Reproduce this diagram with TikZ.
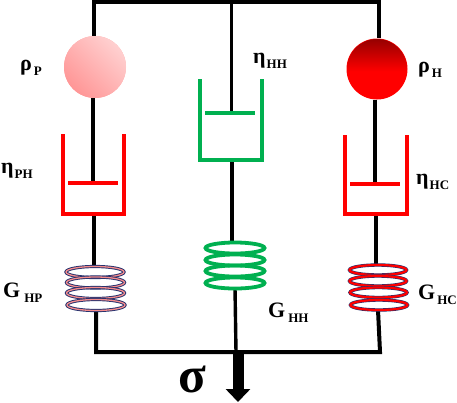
\documentclass[tikz,border=0pt]{standalone}
\usepackage{fontspec}
\setmainfont{Liberation Serif}
\usetikzlibrary{arrows.meta}
\definecolor{dashred}{RGB}{255,0,0}
\definecolor{dashgreen}{RGB}{0,176,80}
\definecolor{navyedge}{RGB}{40,50,110}
\definecolor{ballpale}{RGB}{255,208,208}
\definecolor{balldeep}{RGB}{255,150,150}
\definecolor{balldark}{RGB}{150,0,0}
\definecolor{coilpink}{RGB}{245,140,140}
\pgfdeclareverticalshading{redball}{100bp}{color(0bp)=(red); color(48bp)=(red); color(75bp)=(balldark); color(100bp)=(balldark)}
\tikzset{
  x=1pt,y=-1pt,
  wire/.style={draw=black,line width=3.2pt,line cap=butt},
  rod/.style={draw=black,line width=3.4pt},
  potred/.style={draw=dashred,line width=3.8pt,miter limit=10},
  potgreen/.style={draw=dashgreen,line width=3.8pt},
  lbl/.style={inner sep=0pt,anchor=base west,font=\bfseries\fontsize{22}{22}\selectfont},
  coilgreen/.style={draw=dashgreen,line width=3.8pt,fill=none},
  pt/.style={inner sep=0pt,minimum size=0pt}
}
\newcommand{\lab}[3]{#1\kern#3pt\raisebox{-5pt}{\fontsize{13}{13}\selectfont #2}}
\newcommand{\coilblue}[3]{%
  \draw[navyedge,line width=3.2pt] (#1,#2) ellipse [x radius=29,y radius=#3];
  \draw[coilpink,line width=1.3pt] (#1,#2) ellipse [x radius=29,y radius=#3];}
\newcommand{\coilred}[3]{%
  \draw[navyedge,line width=3.4pt] (#1,#2) ellipse [x radius=28.5,y radius=#3];
  \draw[dashred,line width=2.2pt] (#1,#2) ellipse [x radius=28.5,y radius=#3];}
\begin{document}
\begin{tikzpicture}
\useasboundingbox (0,0) rectangle (457,402);
% anchors
\coordinate (tl) at (94,2);
\coordinate (tr) at (379,2);
\coordinate (tm) at (231,2);
\coordinate (bl) at (96,352);
\coordinate (br) at (380,352);
\coordinate (bm) at (238,352);
\coordinate (tip) at (238,402);
% masses
\fill[balldeep!70!ballpale] (95,67) circle (31);
\shade[left color=ballpale,right color=balldeep,shading angle=-45] (95,67) circle (31);
\node[pt,circle,minimum size=62pt] (mp) at (95,67) {};
\fill[red] (377,69) circle (30.5);
\shade[shading=redball] (377,69) circle (30);
\node[pt,circle,minimum size=61pt] (mh) at (377,69) {};
% dashpots
\coordinate (pl) at (93,183);
\coordinate (pm) at (231,113);
\coordinate (pr) at (375,184);
\coordinate (dl) at (94,214);
\coordinate (dm) at (232,160);
\coordinate (dr) at (376,214);
\coordinate (sl1) at (94,267);
\coordinate (sl2) at (96,312);
\coordinate (sm1) at (232,243);
\coordinate (sm2) at (235,288);
\coordinate (sr1) at (376,265);
\coordinate (sr2) at (378,310);
% wires
\draw[wire,line width=4.5pt] (tl|-mp.north) -- (tl) -- (tr) -- (tr|-mh.north);
\draw[wire,line width=3pt] (tm) -- (pm);
\draw[rod] (mp.south-|pl) -- (pl);
\draw[rod] (mh.south-|pr) -- (pr);
\draw[rod] (dl) -- (sl1);
\draw[rod] (dm) -- (sm1);
\draw[rod] (dr) -- (sr1);
\draw[wire,line width=4pt] (sl2) -- (bl) -- (br) -- (sr2);
\draw[rod] (sm2) -- (236,352);
% pots
\draw[potred] (63,134) -- (63,214) -- (124,214) -- (124,134);
\draw[potred] (68,183) -- (118,183);
\draw[potgreen] (200,79) -- (200,160) -- (262,160) -- (262,79);
\draw[potgreen] (205,113) -- (255,113);
\draw[potred] (345,135) -- (345,214) -- (407,214) -- (407,135);
\draw[potred] (350,184) -- (400,184);
% springs
\coilblue{95}{272}{5.5}
\coilblue{95.5}{282.5}{5.5}
\coilblue{95.5}{293}{5.5}
\coilblue{96}{305}{5.5}
\foreach \y in {248,260,271,283}{\draw[coilgreen] (235,\y) ellipse [x radius=29.5,y radius=5.5];}
\coilred{378}{270}{5}
\coilred{378}{281}{5}
\coilred{378.5}{292.5}{5}
\coilred{379}{305}{5}
% load arrow
\draw[-{Triangle[length=13pt,width=24pt]},line width=11pt] (bm) -- (tip);
% labels
\node[lbl] (lrp) at (20,70) {\lab{ρ}{P}{2}};
\node[lbl] (lrh) at (418,72) {\lab{ρ}{H}{2}};
\node[lbl] (lep) at (1,173) {\lab{η}{PH}{1}};
\node[lbl] (leh) at (253,63) {\lab{η}{HH}{1}};
\node[lbl] (lec) at (416,184) {\lab{η}{HC}{1}};
\node[lbl] (lgp) at (3,297) {\lab{G}{HP}{4}};
\node[lbl] (lgh) at (268,317) {\lab{G}{HH}{3}};
\node[lbl] (lgc) at (418,299) {\lab{G}{HC}{2}};
\node[inner sep=0pt,anchor=base west,font=\bfseries\fontsize{51}{51}\selectfont] (sig) at (178,392) {σ};
\end{tikzpicture}
\end{document}
